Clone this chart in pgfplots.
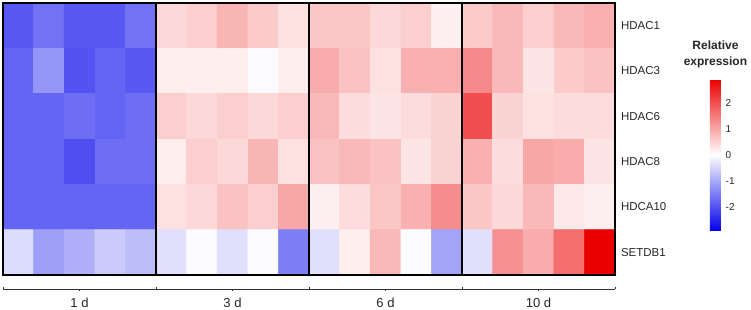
\documentclass[border=0pt]{standalone}
\usepackage{pgfplots}
\pgfplotsset{compat=1.18}
\usepackage{pgfplotstable}
\usepackage{fontspec}
\setmainfont{Liberation Sans}
\pgfplotstableread{
x y c
0 0 -1.9
1 0 -1.6
2 0 -1.9
3 0 -1.9
4 0 -1.6
5 0 0.45
6 0 0.55
7 0 0.85
8 0 0.6
9 0 0.35
10 0 0.65
11 0 0.65
12 0 0.45
13 0 0.55
14 0 0.17
15 0 0.6
16 0 0.8
17 0 0.55
18 0 0.8
19 0 0.9
0 1 -1.75
1 1 -1.2
2 1 -1.95
3 1 -1.75
4 1 -1.9
5 1 0.2
6 1 0.2
7 1 0.2
8 1 -0.05
9 1 0.2
10 1 0.95
11 1 0.7
12 1 0.35
13 1 0.9
14 1 0.9
15 1 1.35
16 1 0.8
17 1 0.3
18 1 0.6
19 1 0.7
0 2 -1.75
1 2 -1.75
2 2 -1.65
3 2 -1.75
4 2 -1.65
5 2 0.55
6 2 0.45
7 2 0.55
8 2 0.45
9 2 0.55
10 2 0.8
11 2 0.4
12 2 0.3
13 2 0.4
14 2 0.5
15 2 2.0
16 2 0.5
17 2 0.35
18 2 0.4
19 2 0.4
0 3 -1.75
1 3 -1.75
2 3 -2.0
3 3 -1.65
4 3 -1.65
5 3 0.2
6 3 0.55
7 3 0.45
8 3 0.85
9 3 0.35
10 3 0.7
11 3 0.8
12 3 0.7
13 3 0.3
14 3 0.5
15 3 0.9
16 3 0.4
17 3 1.0
18 3 0.95
19 3 0.3
0 4 -1.75
1 4 -1.75
2 4 -1.75
3 4 -1.75
4 4 -1.75
5 4 0.35
6 4 0.45
7 4 0.7
8 4 0.55
9 4 1.0
10 4 0.17
11 4 0.4
12 4 0.65
13 4 0.9
14 4 1.3
15 4 0.65
16 4 0.45
17 4 0.8
18 4 0.25
19 4 0.17
0 5 -0.4
1 5 -1.1
2 5 -0.9
3 5 -0.6
4 5 -0.75
5 5 -0.35
6 5 -0.05
7 5 -0.35
8 5 -0.03
9 5 -1.45
10 5 -0.35
11 5 0.2
12 5 0.8
13 5 -0.03
14 5 -1.05
15 5 -0.35
16 5 1.25
17 5 0.95
18 5 1.65
19 5 2.9
}\heat
\begin{document}
\begin{tikzpicture}
\useasboundingbox (-2.25pt,-26.25pt) rectangle (561pt,206.25pt);
\begin{axis}[
  at={(0,0)}, anchor=south west,
  scale only axis, width=459pt, height=204pt,
  xmin=-0.5, xmax=19.5, ymin=-0.5, ymax=5.5,
  y dir=reverse,
  clip=false,
  axis line style={draw=none},
  major tick length=0pt,
  font=\fontsize{8.6}{10}\selectfont,
  xtick={2,7,12,17},
  xticklabels={1 d,3 d,6 d,10 d},
  xticklabel style={yshift=-13.5pt, font=\fontsize{9.8}{11}\selectfont, text=black!85},
  ytick={0,1,2,3,4,5},
  yticklabels={HDAC1,HDAC3,HDAC6,HDAC8,HDCA10,SETDB1},
  yticklabel pos=right,
  yticklabel style={text=black!85, xshift=1pt},
  colormap={bwr}{rgb255=(0,0,235) rgb255=(255,255,255) rgb255=(235,0,0)},
  point meta min=-2.9, point meta max=2.9,
  colorbar,
  colorbar style={
    at={(1.1552,0.7206)}, anchor=north west,
    scale only axis, width=8.25pt, height=114pt,
    axis line style={draw=none},
    major tick length=0pt,
    ytick={-2,-1,0,1,2},
    yticklabels={-2,-1,0,1,2},
    yticklabel style={font=\fontsize{7.5}{8.5}\selectfont, text=black!85, xshift=0pt},
    title={Relative\\expression},
    title style={align=center, font=\bfseries\fontsize{9}{12}\selectfont, text=black!85, yshift=-1pt},
  },
]
\addplot[matrix plot*, mesh/cols=20, point meta=explicit] table[x=x, y=y, meta=c] {\heat};
\draw[black, line width=1.1pt] (axis cs:-0.5,-0.5) rectangle (axis cs:4.5,5.5);
\draw[black, line width=1.1pt] (axis cs:4.5,-0.5) rectangle (axis cs:9.5,5.5);
\draw[black, line width=1.1pt] (axis cs:9.5,-0.5) rectangle (axis cs:14.5,5.5);
\draw[black, line width=1.1pt] (axis cs:14.5,-0.5) rectangle (axis cs:19.5,5.5);
\draw[black!80, line width=0.7pt] (axis cs:-0.5,5.81) -- (axis cs:19.5,5.81);
\draw[black!80, line width=0.6pt] (axis cs:-0.5,5.81) -- ++(0pt,1.5pt);
\draw[black!80, line width=0.6pt] (axis cs:4.5,5.81) -- ++(0pt,1.5pt);
\draw[black!80, line width=0.6pt] (axis cs:9.5,5.81) -- ++(0pt,1.5pt);
\draw[black!80, line width=0.6pt] (axis cs:14.5,5.81) -- ++(0pt,1.5pt);
\draw[black!80, line width=0.6pt] (axis cs:19.5,5.81) -- ++(0pt,1.5pt);
\draw[black!80, line width=0.6pt] (axis cs:2,5.81) -- ++(0pt,-1.8pt);
\draw[black!80, line width=0.6pt] (axis cs:7,5.81) -- ++(0pt,-1.8pt);
\draw[black!80, line width=0.6pt] (axis cs:12,5.81) -- ++(0pt,-1.8pt);
\draw[black!80, line width=0.6pt] (axis cs:17,5.81) -- ++(0pt,-1.8pt);
\end{axis}
\end{tikzpicture}
\end{document}
